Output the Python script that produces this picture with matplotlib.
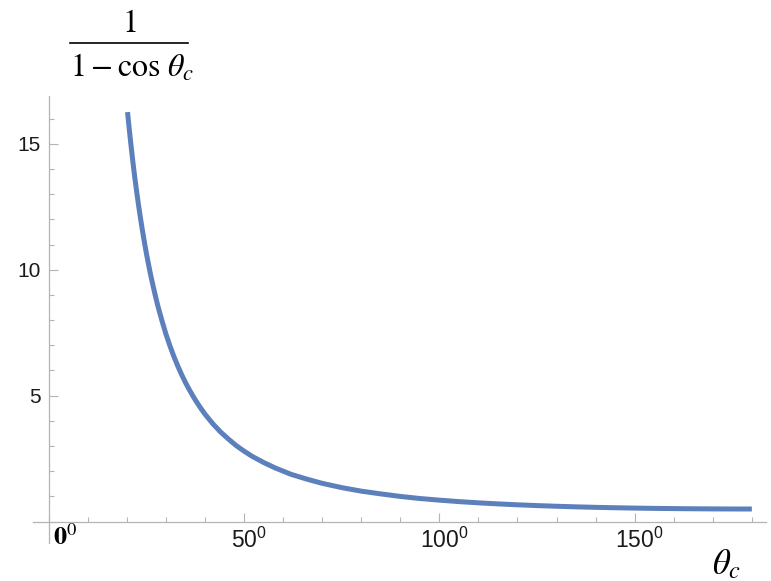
import matplotlib
matplotlib.use('Agg')
import matplotlib.pyplot as plt
import matplotlib.transforms as mtransforms
from matplotlib.lines import Line2D
from matplotlib.ticker import MultipleLocator

# values, 1/(1 - cos theta_c)
theta_deg = [20.2, 20.5, 21, 21.5, 22, 22.5, 23, 23.5, 24, 24.5, 25, 25.5,
             26, 26.5, 27, 27.5, 28, 29, 30, 31, 32, 33, 34, 35, 36, 37, 38,
             39, 40, 42, 44, 46, 48, 50, 52, 55, 58, 62, 66, 70, 75, 80, 85,
             90, 95, 100, 105, 110, 115, 120, 125, 130, 135, 140, 145, 150,
             155, 160, 165, 170, 175, 180]
ratio = [16.26, 15.79, 15.06, 14.37, 13.73, 13.14, 12.58, 12.06, 11.57, 11.11,
         10.67, 10.27, 9.88, 9.52, 9.18, 8.85, 8.54, 7.98, 7.46, 7.00, 6.58,
         6.20, 5.85, 5.53, 5.24, 4.97, 4.72, 4.49, 4.27, 3.89, 3.56, 3.28,
         3.02, 2.80, 2.60, 2.35, 2.13, 1.88, 1.69, 1.52, 1.35, 1.21, 1.10,
         1.00, 0.917, 0.852, 0.794, 0.745, 0.703, 0.667, 0.636, 0.609, 0.586,
         0.566, 0.550, 0.536, 0.525, 0.516, 0.509, 0.504, 0.501, 0.500]

x_ticks = [50, 100, 150]
x_labels = [r'$\mathregular{50^{0}}$', r'$\mathregular{100^{0}}$', r'$\mathregular{150^{0}}$']
y_ticks = [5, 10, 15]

plt.rcParams['font.family'] = ['Liberation Sans', 'DejaVu Sans']
plt.rcParams['mathtext.fontset'] = 'stix'

axis_col = '#b4b4b4'
fig = plt.figure(figsize=(7.71, 5.81), dpi=100)
ax = fig.add_axes([0.0428, 0.0654, 0.9501, 0.7694])

ax.plot(theta_deg, ratio, color='#5c80bb', lw=3.6, solid_capstyle='butt')

ax.set_xlim(-4, 183.5)
ax.set_ylim(-0.85, 16.9)

for s in ['top', 'right']:
    ax.spines[s].set_visible(False)
ax.spines['left'].set_position(('data', 0))
ax.spines['bottom'].set_position(('data', 0))
for s in ['left', 'bottom']:
    ax.spines[s].set_color(axis_col)
    ax.spines[s].set_linewidth(0.9)

ax.set_xticks(x_ticks, labels=x_labels)
ax.set_yticks(y_ticks)
ax.xaxis.set_minor_locator(MultipleLocator(10))
ax.yaxis.set_minor_locator(MultipleLocator(1))
ax.tick_params(which='both', direction='in', color=axis_col, width=0.8)
ax.tick_params(which='major', length=6.5)
ax.tick_params(which='minor', length=3.6)
ax.tick_params(axis='y', labelsize=15, pad=5.8, labelcolor='#1a1a1a')
ax.tick_params(axis='x', labelsize=16.5, pad=4.5, labelcolor='#1a1a1a')

# centre the number (not number + superscript) under the tick
shift = mtransforms.ScaledTranslation(0.05, 0, fig.dpi_scale_trans)
for lab in ax.get_xticklabels():
    lab.set_transform(lab.get_transform() + shift)

# origin label
ax.text(1.1, -0.1, r'$\mathbf{0}^{0}$', fontsize=19, ha='left', va='top')

# y label as a stacked fraction
fig.text(0.1673, 0.945, r'$1$', fontsize=23, ha='center', va='baseline')
fig.add_artist(Line2D([0.0908, 0.2438], [0.926, 0.926], color='black', lw=1.2,
                      transform=fig.transFigure))
fig.text(0.0908, 0.8675, r'$1-\cos\,\theta_c$', fontsize=23, ha='left', va='baseline')

fig.text(0.924, 0.0, r'$\theta_c$', fontsize=25, ha='left', va='bottom')

fig.savefig('out.png', dpi=100)
